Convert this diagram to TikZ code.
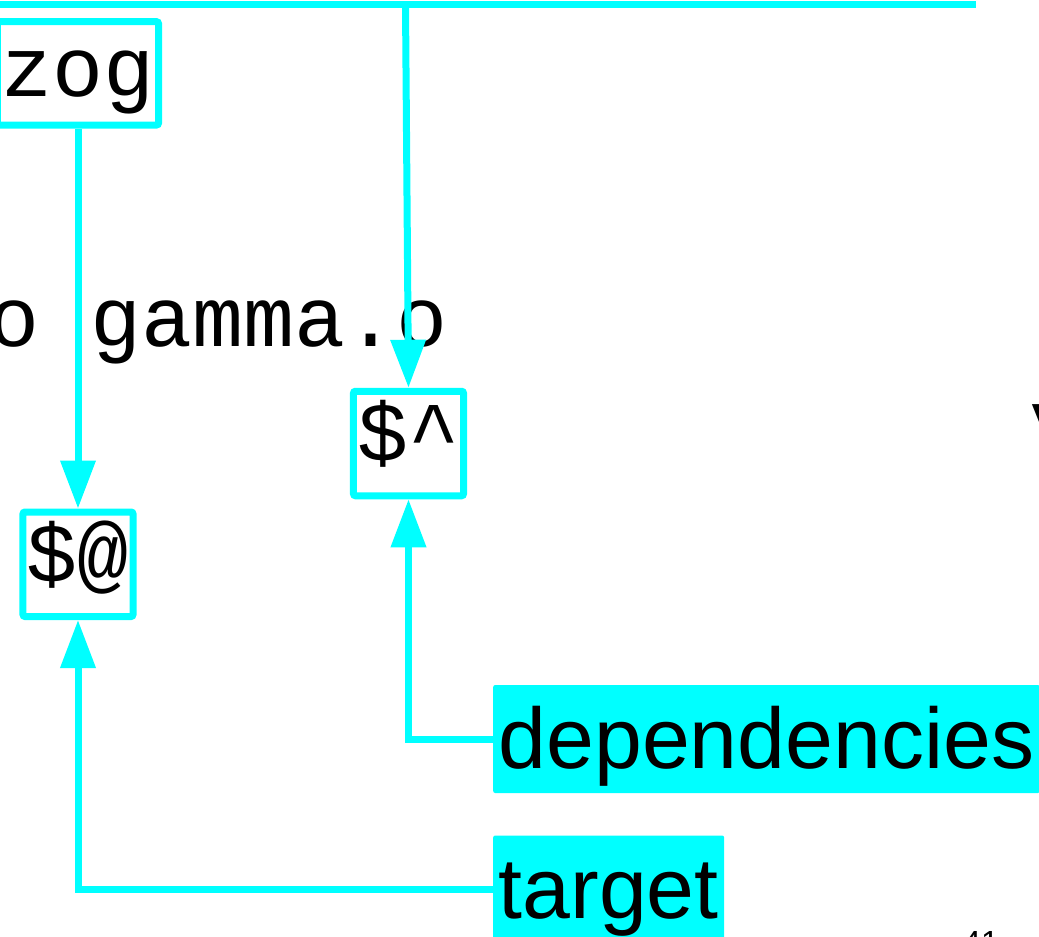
\documentclass[tikz,border=0pt]{standalone}
\usepackage{fontspec}
\setmainfont{Liberation Sans}
\newfontfamily\monofam{Liberation Mono}
\usetikzlibrary{arrows.meta}
\definecolor{cy}{RGB}{0,255,255}
\begin{document}
\begin{tikzpicture}[x=1pt,y=-1pt,
  monotext/.style={font=\monofam\fontsize{85}{100}\selectfont, inner sep=0pt},
  mbox/.style={draw=cy, line width=7pt, rounded corners=2pt, fill=white,
    inner xsep=4pt, inner ysep=0pt, text height=70pt, text depth=34.5pt,
    font=\monofam\fontsize{85}{100}\selectfont},
  lbl/.style={fill=cy, rounded corners=2pt, inner xsep=5.5pt, inner ysep=0pt,
    text height=83pt, text depth=25pt, font=\fontsize{86}{100}\selectfont, anchor=west},
  conn/.style={draw=cy, line width=7.5pt},
  arr/.style={conn, line width=7pt, -{Triangle[length=48pt,width=34pt]}}]
\useasboundingbox (0,0) rectangle (1039,937);
\clip (0,0) rectangle (1039,937);
\fill[white] (0,0) rectangle (1039,937);
\node[monotext, anchor=base west] (files) at (-11.8,346) {o gamma.o};
\node[monotext, anchor=base west] (frag) at (1029,449) {v};
\node[font=\fontsize{32}{36}\selectfont, inner sep=0pt, anchor=base west] (page) at (963,953) {41};
\node[mbox, text height=75pt, text depth=28.3pt] (zog) at (78,73.35) {zog};
\node[mbox] (at) at (78,564.25) {\$@};
\node[mbox] (hat) at (408.5,443.5) {\$\string^};
\node[lbl] (dep) at (493,739) {dependencies};
\node[lbl] (tgt) at (493,889.5) {target};
\coordinate (tl) at (-10,4.5);
\coordinate (tr) at (976,4.5);
\coordinate (j) at (405.5,4.5);
\draw[conn] (tl) -- (tr);
\draw[arr] (j) -- (hat.north);
\draw[arr] (zog.south) -- (at.north);
\draw[arr] (dep.west) -| (hat.south);
\draw[arr] (tgt.west) -| (at.south);
\end{tikzpicture}
\end{document}
